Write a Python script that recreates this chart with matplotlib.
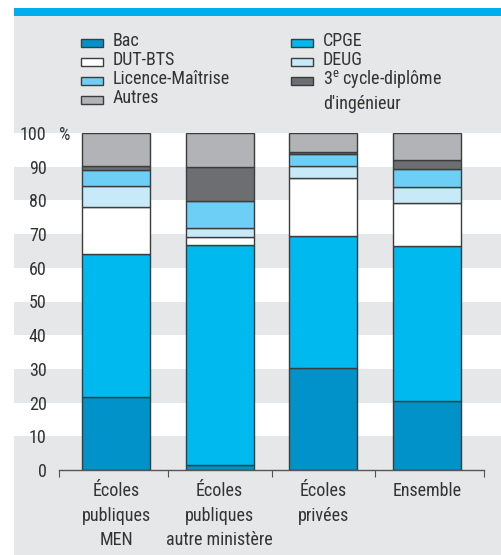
import matplotlib
matplotlib.use("Agg")
import matplotlib.pyplot as plt
from matplotlib.patches import Rectangle
from matplotlib.transforms import blended_transform_factory
import numpy as np

plt.rcParams["font.family"] = ["Roboto Condensed", "DejaVu Sans"]
plt.rcParams["mathtext.fontset"] = "custom"
plt.rcParams["mathtext.rm"] = "Roboto Condensed"

CATEGORIES = ["Écoles\npubliques\nMEN", "Écoles\npubliques\nautre ministère",
              "Écoles\nprivées", "Ensemble"]

SERIES = ["Bac", "CPGE", "DUT-BTS", "DEUG", "Licence-Maîtrise",
          "3$^{\\mathrm{e}}$ cycle-diplôme\nd'ingénieur", "Autres"]

bac = [21.6, 1.4, 30.3, 20.5]
cpge = [42.6, 65.4, 39.1, 45.9]
dut_bts = [13.9, 2.3, 17.2, 12.9]
deug = [6.1, 2.8, 3.6, 4.8]
licence = [4.8, 8.0, 3.5, 5.1]
troisieme = [1.3, 10.0, 0.8, 2.7]
autres = [9.7, 10.1, 5.5, 8.1]

VALUES = [bac, cpge, dut_bts, deug, licence, troisieme, autres]
COLORS = ["#0092C8", "#00B9EF", "#FFFFFF", "#C7E9F8", "#6DCFF6", "#6D6E71", "#B1B3B6"]

YTICKS = [0, 10, 20, 30, 40, 50, 60, 70, 80, 90, 100]

TXT = "#333333"
FS = 13

W, H = 501, 555
fig = plt.figure(figsize=(W / 100, H / 100), dpi=100)
fig.patch.set_facecolor("white")

# panel background + blue strip on top
fig.patches.append(Rectangle((14 / W, 0), 1, (H - 16) / H, transform=fig.transFigure,
                             facecolor="#E6E7E8", edgecolor="none", zorder=-5))
fig.patches.append(Rectangle((14 / W, (H - 16) / H), 1, 8 / H, transform=fig.transFigure,
                             facecolor="#00AEEF", edgecolor="none", zorder=-5))

ax = fig.add_axes([59 / W, (H - 470) / H, 425 / W, 337 / H])
ax.set_facecolor("none")
XMIN, XMAX = -0.55, 3.55
ax.set_xlim(XMIN, XMAX)
ax.set_ylim(0, 100)

# white horizontal bands across the panel
trans = blended_transform_factory(fig.transFigure, ax.transData)
for y0 in range(10, 100, 20):
    ax.add_patch(Rectangle((14 / W, y0), 1, 10, transform=trans, facecolor="white",
                           edgecolor="none", clip_on=False, zorder=0))

x = np.arange(len(CATEGORIES))
bottom = np.zeros(len(CATEGORIES))
for vals, color in zip(VALUES, COLORS):
    ax.bar(x, vals, bottom=bottom, width=0.655, color=color,
           edgecolor="#3C3C3C", linewidth=1.0, zorder=3)
    bottom += np.array(vals)

for s in ["top", "right", "left"]:
    ax.spines[s].set_visible(False)
ax.spines["bottom"].set_color("#555555")
ax.spines["bottom"].set_linewidth(1.0)
ax.spines["bottom"].set_zorder(4)

ax.set_xticks([XMIN, 0.5, 1.5, 2.5, XMAX])
ax.set_xticklabels([])
ax.tick_params(axis="x", which="major", length=5, color="#555555", direction="out")
ax.set_xticks(x, minor=True)
ax.set_xticklabels(CATEGORIES, minor=True, fontsize=FS, color=TXT, linespacing=1.45)
ax.tick_params(axis="x", which="minor", length=0, pad=9)

ax.set_yticks(YTICKS)
ax.set_yticklabels([str(v) for v in YTICKS], fontsize=FS, color=TXT)
ax.tick_params(axis="y", length=0, pad=9)
ax.text(0, 100, "%", transform=blended_transform_factory(ax.transAxes, ax.transData),
        ha="left", va="center_baseline", fontsize=FS, color=TXT)

# legend, drawn by hand in two columns
order = [0, 2, 4, 6, 1, 3, 5]
for i, k in enumerate(order):
    col, row = divmod(i, 4)
    px = 81 if col == 0 else 291
    py = 47 + 19 * row
    fig.patches.append(Rectangle((px / W, (H - py) / H), 22 / W, 8 / H, transform=fig.transFigure,
                                 facecolor=COLORS[k], edgecolor="#3C3C3C", linewidth=1.0))
    lines = SERIES[k].split("\n")
    fig.text((px + 32) / W, (H - py + 1) / H, lines[0], fontsize=FS,
             color=TXT, ha="left", va="baseline")
    if len(lines) > 1:
        fig.text((px + 32) / W, (H - py - 24) / H, lines[1], fontsize=FS,
                 color=TXT, ha="left", va="baseline")

fig.savefig("out.png", dpi=100)
